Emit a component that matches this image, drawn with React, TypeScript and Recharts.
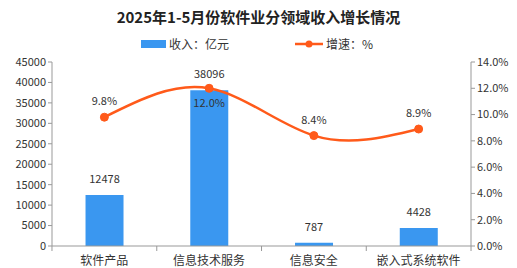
import { ComposedChart, Bar, Line, XAxis, YAxis, LabelList } from 'recharts'

const categories = ['软件产品', '信息技术服务', '信息安全', '嵌入式系统软件']
const revenue = [12478, 38096, 787, 4428]
const growth = [9.8, 12.0, 8.4, 8.9]
const leftTicks = [0, 5000, 10000, 15000, 20000, 25000, 30000, 35000, 40000, 45000]
const rightTicks = [0, 2, 4, 6, 8, 10, 12, 14]

const chartData = categories.map((name, i) => ({
  name,
  revenue: revenue[i],
  growth: growth[i],
}))

const FONT = '"Noto Sans CJK SC", "DejaVu Sans", sans-serif'
const BAR_COLOR = '#3A97F0'
const LINE_COLOR = '#FF5A1A'

const CategoryTick = (props: any) => {
  const { x, y, payload, index } = props
  const half = 52.4
  return (
    <g>
      {index === 0 && <line x1={x - half} x2={x - half} y1={y - 8} y2={y - 3} stroke="#999" />}
      <line x1={x + half} x2={x + half} y1={y - 8} y2={y - 3} stroke="#999" />
      <text x={x} y={y + 11} textAnchor="middle" fontSize={12} fill="#333" fontFamily={FONT}>
        {payload.value}
      </text>
    </g>
  )
}

const GrowthLabel = (props: any) => {
  const { x, y, value, index } = props
  const below = index === 1
  return (
    <text
      x={x}
      y={below ? y + 19 : y - 12}
      textAnchor="middle"
      fontSize={11}
      fill="#333"
      fontFamily={FONT}
    >
      {value.toFixed(1)}%
    </text>
  )
}

export default function App() {
  return (
    <div style={{ position: 'absolute', left: 0, top: 0, width: 517, height: 268, background: '#fff', fontFamily: FONT }}>
      <div style={{ position: 'absolute', top: 6, width: 517, textAlign: 'center', fontSize: 15, fontWeight: 'bold', color: '#222' }}>
        2025年1-5月份软件业分领域收入增长情况
      </div>
      <div style={{ position: 'absolute', top: 35, left: 141, display: 'flex', alignItems: 'center', fontSize: 12, color: '#333' }}>
        <span style={{ display: 'inline-block', width: 25, height: 8, background: BAR_COLOR, marginRight: 3 }} />
        收入：亿元
      </div>
      <div style={{ position: 'absolute', top: 35, left: 295, display: 'flex', alignItems: 'center', fontSize: 12, color: '#333' }}>
        <svg width={28} height={10} style={{ marginRight: 3 }}>
          <line x1={0} x2={28} y1={5} y2={5} stroke={LINE_COLOR} strokeWidth={2.5} />
          <circle cx={14} cy={5} r={3.5} fill={LINE_COLOR} />
        </svg>
        增速：%
      </div>
      <ComposedChart
        width={517}
        height={268}
        data={chartData}
        margin={{ top: 62, right: 0, bottom: 0, left: 0 }}
        barCategoryGap="32%"
      >
        <XAxis
          dataKey="name"
          height={22}
          stroke="#999"
          tickLine={false}
          tick={<CategoryTick />}
          interval={0}
        />
        <YAxis
          yAxisId="left"
          width={52}
          domain={[0, 45000]}
          ticks={leftTicks}
          interval={0}
          stroke="#999"
          tickSize={4}
          tick={{ fontSize: 11, fill: '#333', fontFamily: FONT }}
        />
        <YAxis
          yAxisId="right"
          orientation="right"
          width={46}
          domain={[0, 14]}
          ticks={rightTicks}
          interval={0}
          stroke="#999"
          tickSize={4}
          tickFormatter={(v: number) => `${v.toFixed(1)}%`}
          tick={{ fontSize: 11, fill: '#333', fontFamily: FONT }}
        />
        <Bar yAxisId="left" dataKey="revenue" fill={BAR_COLOR} isAnimationActive={false}>
          <LabelList dataKey="revenue" position="top" offset={12} fontSize={11} fill="#333" fontFamily={FONT} />
        </Bar>
        <Line
          yAxisId="right"
          type="natural"
          dataKey="growth"
          stroke={LINE_COLOR}
          strokeWidth={2.5}
          dot={{ r: 4, fill: LINE_COLOR, stroke: LINE_COLOR, strokeWidth: 1 }}
          activeDot={false}
          isAnimationActive={false}
        >
          <LabelList dataKey="growth" content={<GrowthLabel />} />
        </Line>
      </ComposedChart>
    </div>
  )
}
